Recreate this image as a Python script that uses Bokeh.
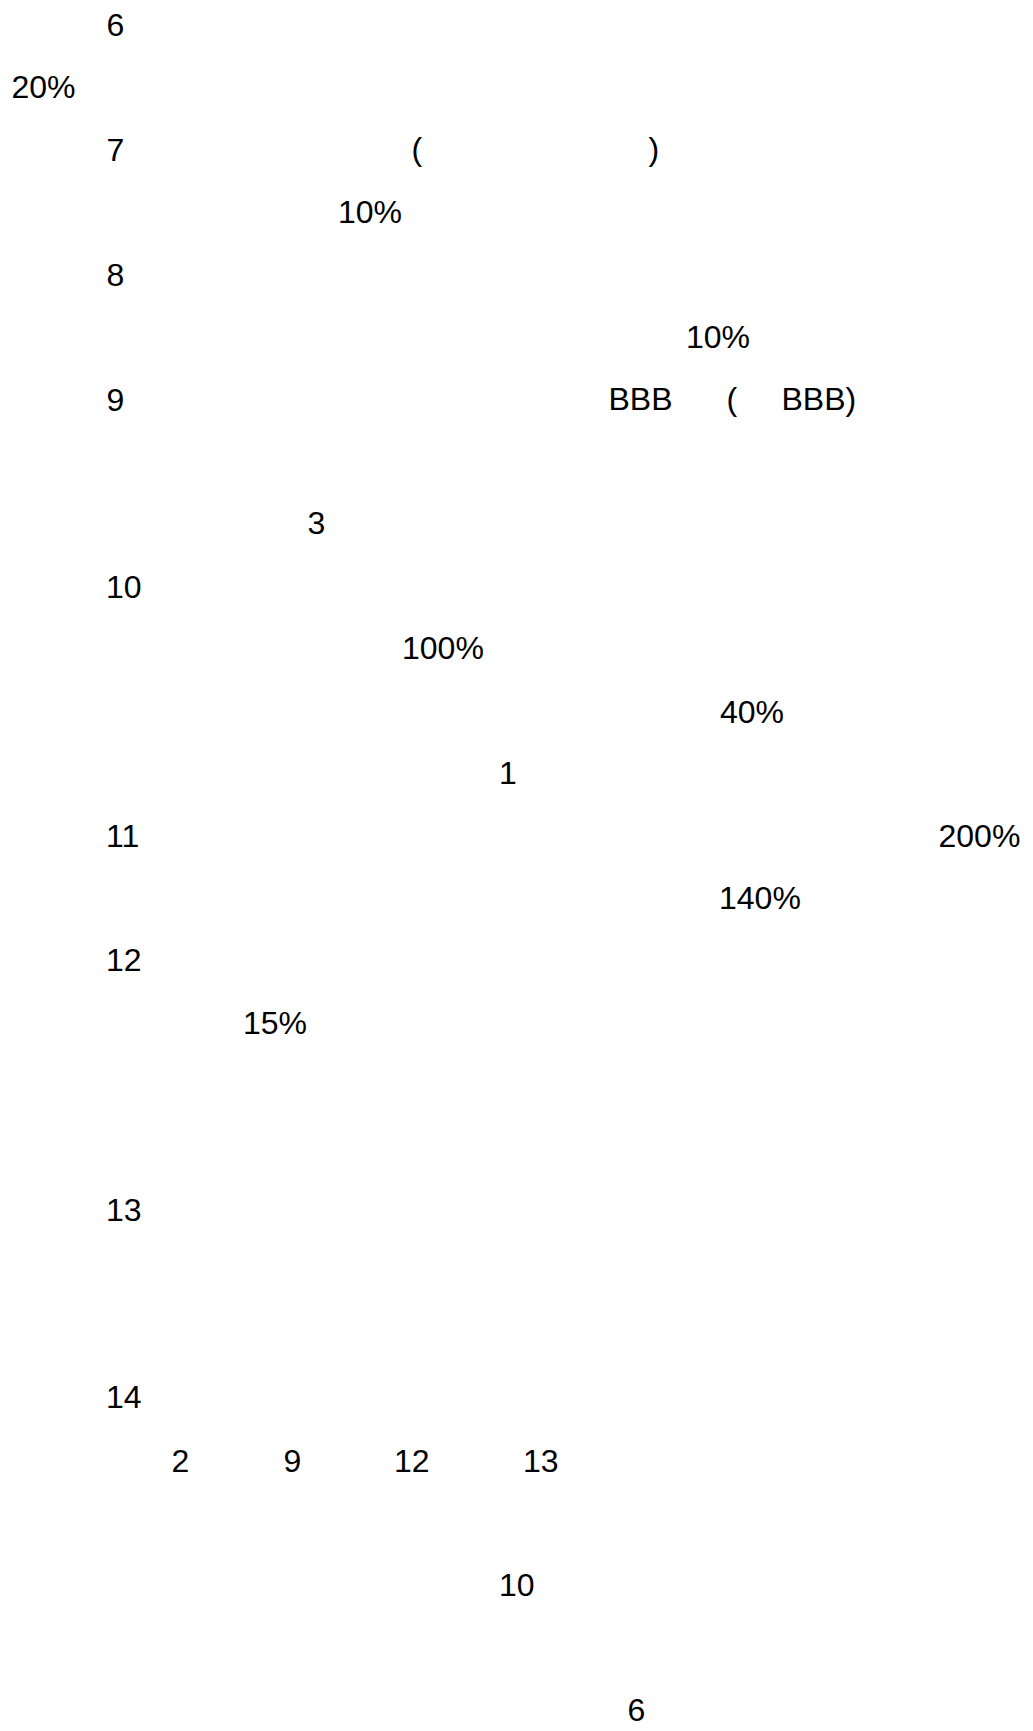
from bokeh.plotting import figure
from bokeh.models import ColumnDataSource, Range1d
from bokeh.core.properties import value
from bokeh.embed import file_html
from bokeh.resources import INLINE

# Text fragments (page coordinates: x = left, y = baseline)
labels = ["6", "20%", "7", "(", ")", "10%", "8", "10%", "9", "BBB", "(", "BBB)",
          "3", "10", "100%", "40%", "1", "11", "200%", "140%", "12", "15%",
          "13", "14", "2", "9", "12", "13", "10", "6"]
pos_x = [106, 11, 106, 411, 648, 337.5, 106, 685.5, 106, 608, 726, 781,
         307, 105.5, 401.5, 719.5, 498.5, 105.5, 938, 718.5, 105.5, 242.5,
         105.5, 105.5, 171, 283, 393.5, 522.5, 498.5, 627]
pos_y = [35, 97, 160, 159, 159, 222, 285, 347, 410, 409, 409, 409,
         533, 597, 658, 722, 783, 846, 846, 908, 970, 1033,
         1220, 1407, 1471, 1471, 1471, 1471, 1595, 1720]

W, H = 1025, 1728

p = figure(width=W, height=H, output_backend="svg", toolbar_location=None,
           x_range=Range1d(0, W), y_range=Range1d(H, 0),
           x_axis_location=None, y_axis_location=None,
           min_border=0, background_fill_color="white", border_fill_color="white")
p.xgrid.visible = False
p.ygrid.visible = False
p.outline_line_color = None

src = ColumnDataSource(dict(x=pos_x, y=pos_y, t=labels))
p.text(x="x", y="y", text="t", source=src, text_font=value("Liberation Sans"),
       text_font_size="32px", text_color="black", text_align="left",
       text_baseline="alphabetic", y_offset=-11)

open("out.html", "w").write(file_html(p, INLINE))
